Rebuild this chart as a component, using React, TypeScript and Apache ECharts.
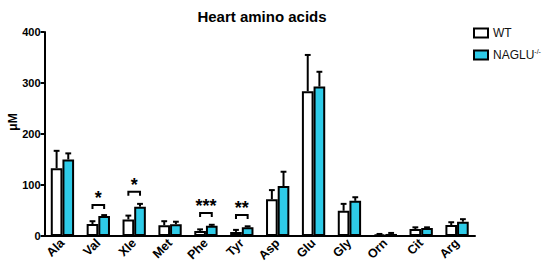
import React, { useEffect, useRef } from "react";
import * as echarts from "echarts";

const categories = ["Ala", "Val", "Xle", "Met", "Phe", "Tyr", "Asp", "Glu", "Gly", "Orn", "Cit", "Arg"];
const wtMean = [133, 23.5, 32.5, 21, 10, 8, 72, 284, 49.5, 3, 13.5, 21.5];
const wtErr = [167, 29, 40, 29, 13, 12, 90, 355, 63, 4, 17, 27];
const ngMean = [150, 39, 57.5, 23, 20, 17, 98, 293, 69, 4, 15.5, 28];
const ngErr = [162, 41, 63, 28, 22, 19, 126, 322, 76, 6, 17, 33];
// significance: [category index, bracket level, label]
const sigIdx = [1, 2, 4, 5];
const sigLevel = [61, 87, 45, 41];
const sigLabel = ["*", "*", "***", "**"];

const yTicks = [0, 100, 200, 300, 400];
const CAT_GAP = 0.35;
const FONT = "Liberation Sans, Arial, Helvetica, sans-serif";

export default function App() {
  const ref = useRef<HTMLDivElement>(null);
  useEffect(() => {
    if (!ref.current) return;
    document.body.style.margin = "0";
    const chart = echarts.init(ref.current, undefined, { renderer: "svg" });

    const errData: any[] = [];
    categories.forEach((_, i) => {
      errData.push([i, wtMean[i], wtErr[i], 0]);
      errData.push([i, ngMean[i], ngErr[i], 1]);
    });
    const sigData = sigIdx.map((c, k) => [c, sigLevel[k], sigLabel[k]]);

    const option: any = {
      animation: false,
      title: {
        text: "Heart amino acids",
        left: 257,
        textAlign: "center",
        top: 4,
        textStyle: { fontFamily: FONT, fontSize: 15, fontWeight: "bold", color: "#000" },
      },
      graphic: [
        {
          type: "text",
          x: 13,
          y: 122,
          rotation: Math.PI / 2,
          style: {
            text: "μM",
            fontFamily: FONT,
            fontWeight: "bold",
            fontSize: 12,
            fill: "#000",
            align: "center",
            verticalAlign: "middle",
          },
        },
      ],
      legend: {
        orient: "vertical",
        left: 468,
        top: 22,
        itemWidth: 14,
        itemHeight: 9,
        itemGap: 9,
        icon: "rect",
        data: ["WT", "NAGLU"],
        formatter: (n: string) => (n === "NAGLU" ? "NAGLU{sup|-/-}" : n),
        textStyle: {
          fontFamily: FONT,
          fontSize: 12,
          color: "#111",
          rich: {
            sup: { fontSize: 7, verticalAlign: "top", padding: [0, 0, 7, 0], fontFamily: FONT, color: "#111" },
          },
        },
      },
      grid: { left: 44.5, right: 75, top: 32, bottom: 31, containLabel: false },
      xAxis: {
        type: "category",
        data: categories,
        axisLine: { lineStyle: { color: "#000", width: 2 } },
        axisTick: { alignWithLabel: true, length: 4, lineStyle: { color: "#000", width: 2 } },
        axisLabel: {
          rotate: 45,
          margin: 5,
          fontFamily: FONT,
          fontWeight: "bold",
          fontSize: 12.5,
          color: "#000",
        },
      },
      yAxis: {
        type: "value",
        min: 0,
        max: 400,
        interval: 100,
        splitLine: { show: false },
        axisLine: { show: true, lineStyle: { color: "#000", width: 2 } },
        axisTick: { show: true, length: 4, lineStyle: { color: "#000", width: 2 } },
        axisLabel: {
          margin: 4,
          fontFamily: FONT,
          fontWeight: "bold",
          fontSize: 11,
          color: "#000",
          formatter: (v: number) => (yTicks.includes(v) ? String(v) : ""),
        },
      },
      series: [
        {
          name: "WT",
          type: "bar",
          data: wtMean,
          barGap: "0%",
          barCategoryGap: CAT_GAP * 100 + "%",
          itemStyle: { color: "#ffffff", borderColor: "#000", borderWidth: 2 },
          z: 2,
        },
        {
          name: "NAGLU",
          type: "bar",
          data: ngMean,
          barGap: "0%",
          barCategoryGap: CAT_GAP * 100 + "%",
          itemStyle: { color: "#2ecbe8", borderColor: "#000", borderWidth: 2 },
          z: 2,
        },
        {
          type: "custom",
          name: "err",
          data: errData,
          z: 3,
          silent: true,
          renderItem: (params: any, api: any) => {
            const c = api.value(0);
            const band = api.size([1, 0])[0];
            const bw = (band * (1 - CAT_GAP)) / 2;
            const side = api.value(3);
            const base = api.coord([c, api.value(1)]);
            const top = api.coord([c, api.value(2)]);
            const x = base[0] + (side === 0 ? -bw / 2 : bw / 2);
            const cap = bw * 0.25;
            const st = { stroke: "#000", lineWidth: 2 };
            return {
              type: "group",
              children: [
                { type: "line", shape: { x1: x, y1: base[1], x2: x, y2: top[1] }, style: st },
                { type: "line", shape: { x1: x - cap, y1: top[1], x2: x + cap, y2: top[1] }, style: st },
              ],
            };
          },
        },
        {
          type: "custom",
          name: "sig",
          data: sigData,
          z: 3,
          silent: true,
          renderItem: (params: any, api: any) => {
            const c = api.value(0);
            const band = api.size([1, 0])[0];
            const bw = (band * (1 - CAT_GAP)) / 2;
            const p = api.coord([c, api.value(1)]);
            const x1 = p[0] - bw / 2;
            const x2 = p[0] + bw / 2;
            const y = p[1];
            const leg = 4;
            const st = { stroke: "#000", lineWidth: 2, fill: "none" };
            return {
              type: "group",
              children: [
                {
                  type: "polyline",
                  shape: { points: [[x1, y + leg], [x1, y], [x2, y], [x2, y + leg]] },
                  style: st,
                },
                {
                  type: "text",
                  x: p[0],
                  y: y + 2,
                  style: {
                    text: sigData[params.dataIndex][2],
                    fontFamily: FONT,
                    fontWeight: "bold",
                    fontSize: 18,
                    fill: "#000",
                    align: "center",
                    verticalAlign: "bottom",
                  },
                },
              ],
            };
          },
        },
      ],
    };
    chart.setOption(option);
    return () => chart.dispose();
  }, []);
  return <div ref={ref} style={{ width: 550, height: 267 }} />;
}
